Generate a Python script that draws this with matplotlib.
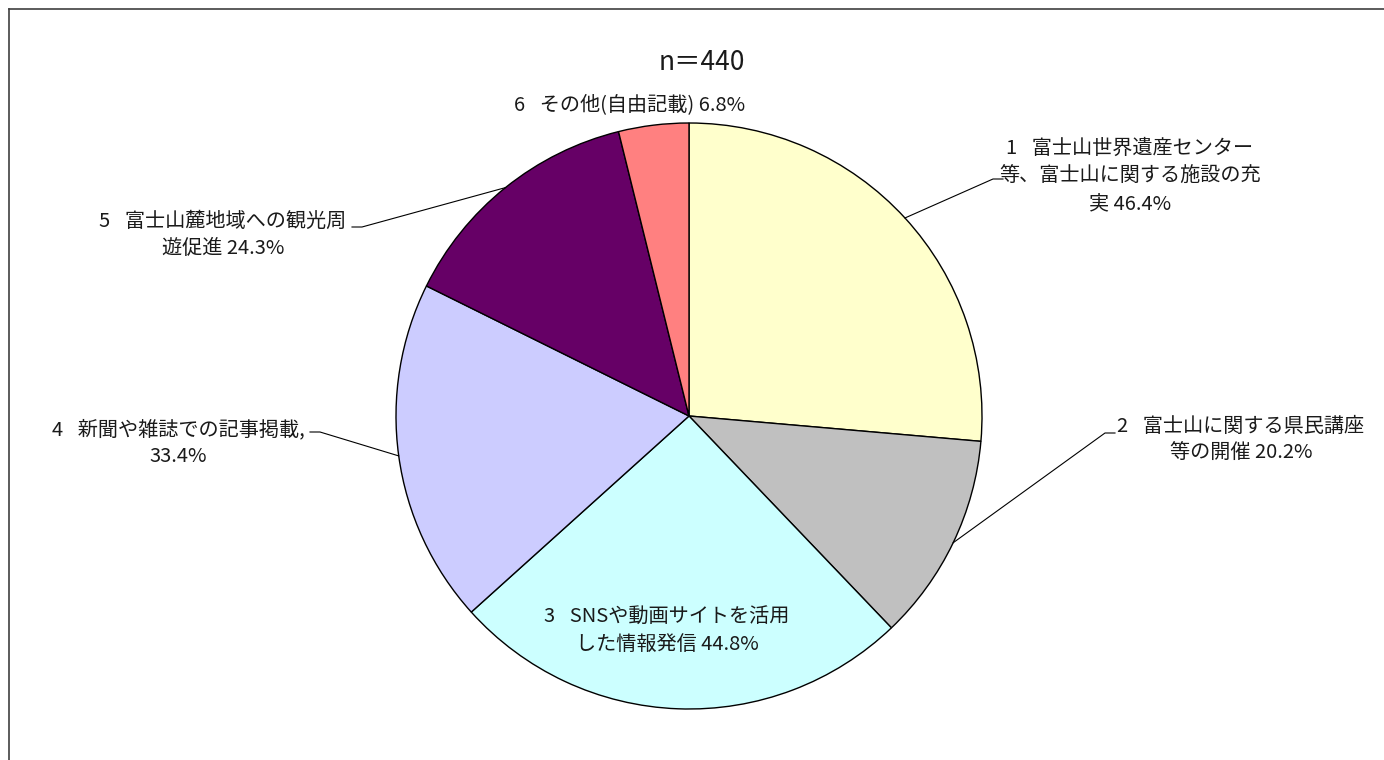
import numpy as np
import matplotlib.pyplot as plt
from matplotlib.lines import Line2D

plt.rcParams['font.family'] = ['Noto Sans CJK JP', 'DejaVu Sans']

W, H = 1384, 760

labels = [
    "1\u2002 富士山世界遺産センター\n等、富士山に関する施設の充\n実",
    "2\u2002 富士山に関する県民講座\n等の開催",
    "3\u2002 SNSや動画サイトを活用\nした情報発信",
    "4\u2002 新聞や雑誌での記事掲載,\n",
    "5\u2002 富士山麓地域への観光周\n遊促進",
    "6\u2002 その他(自由記載)",
]
values = [46.4, 20.2, 44.8, 33.4, 24.3, 6.8]
colors = ["#FFFFCC", "#C0C0C0", "#CCFFFF", "#CCCCFF", "#660066", "#FF8080"]
n_total = 440

# layout in pixel coords (y measured from top)
cx, cy, r = 689, 416, 293
text_pos = [(1130, 176), (1241, 440), (667, 631), (178, 443), (223, 235), (630, 105)]
# short horizontal piece of each leader line, then it runs to the wedge edge
elbows = [((1003, 179), (993, 179)),
          ((1115, 433), (1105, 433)),
          None,
          ((310, 432), (320, 432)),
          ((352, 227), (362, 227)),
          None]

fig = plt.figure(figsize=(W / 100, H / 100), dpi=100)
ax = fig.add_axes([0, 0, 1, 1])

wedges, _ = ax.pie(values, colors=colors, startangle=90, counterclock=False,
                   center=(cx, H - cy), radius=r,
                   wedgeprops=dict(edgecolor="black", linewidth=1.0))

ax.set_xlim(0, W)
ax.set_ylim(0, H)
ax.set_aspect("equal")
ax.axis("off")

txt = "#1a1a1a"
for lab, v, (tx, ty), w, el in zip(labels, values, text_pos, wedges, elbows):
    if lab.endswith("\n"):
        s = f"{lab}{v:.1f}%"
    else:
        s = f"{lab} {v:.1f}%"
    ax.text(tx, H - ty, s, ha="center", va="center", multialignment="center",
            fontsize=14.5, color=txt, linespacing=1.4)
    if el is not None:
        mid = np.deg2rad((w.theta1 + w.theta2) / 2)
        ex = cx + r * np.cos(mid)
        ey = (H - cy) + r * np.sin(mid)
        (x0, y0), (x1, y1) = el
        ax.plot([x0, x1, ex], [H - y0, H - y1, ey], color="black", lw=0.8)

ax.text(702, H - 63, f"n＝{n_total}", ha="center", va="center",
        fontsize=19, color=txt)

# outer frame (only top and left edges fall inside the image)
fig.add_artist(Line2D([8.5 / W, 1.0], [1 - 8.5 / H, 1 - 8.5 / H],
                      color="#404040", lw=1.2))
fig.add_artist(Line2D([8.5 / W, 8.5 / W], [0.0, 1 - 8.5 / H],
                      color="#404040", lw=1.2))

fig.savefig("out.png", dpi=100, facecolor="white")
